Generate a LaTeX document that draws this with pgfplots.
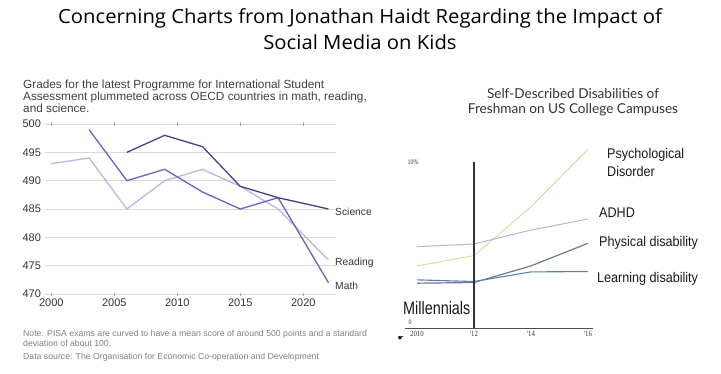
\documentclass[border=0pt]{standalone}
\usepackage{pgfplots}
\pgfplotsset{compat=1.18}
\usepackage{fontspec}
\setmainfont{Lato}
\newfontfamily\opens{Open Sans}
\newfontfamily\lib{Liberation Sans}
\newfontfamily\libser{Liberation Serif}
\newfontfamily\dejavu{DejaVu Sans}
\definecolor{sci}{HTML}{4B3E8E}
\definecolor{mat}{HTML}{6E60C0}
\definecolor{rea}{HTML}{BDB6E2}
\definecolor{psy}{HTML}{D9DCA6}
\definecolor{adhd}{HTML}{A9B9D9}
\definecolor{phy}{HTML}{6D7A8C}
\definecolor{lea}{HTML}{5B7DBB}
\begin{document}
\begin{tikzpicture}[x=1bp,y=1bp]
\path[use as bounding box] (0,0) rectangle (721,373);
% main title
\node[align=center,font=\opens\fontsize{19.5bp}{26bp}\selectfont,text=black,xscale=1.04] at (360,344)
  {Concerning Charts from Jonathan Haidt Regarding the Impact of\\Social Media on Kids};
% left chart title
\node[anchor=north west,align=left,inner sep=0pt,text=black!75,font=\lib\fontsize{11.8bp}{12bp}\selectfont] at (23,293)
  {Grades for the latest Programme for International Student\\Assessment plummeted across OECD countries in math, reading,\\and science.};
\begin{axis}[at={(45bp,79bp)},anchor=south west,scale only axis,
  width=291bp,height=170bp,
  xmin=1999.5,xmax=2022.6,ymin=470,ymax=500,
  xtick={2000,2005,2010,2015,2020},ytick={470,475,...,500},
  axis line style={draw=none},
  ymajorgrids,grid style={black!15,line width=0.8bp},
  xtick style={black!35,line width=0.6bp},ytick style={draw=none},
  major tick length=3bp,tick align=center,
  ticklabel style={font=\lib\fontsize{11bp}{12bp}\selectfont,text=black!80},
  yticklabel style={xshift=1bp},
  /pgf/number format/assume math mode=true,
  /pgf/number format/1000 sep={},
  clip=false]
\addplot[rea,line width=1.3bp] coordinates {(2000,493) (2003,494) (2006,485) (2009,490) (2012,492) (2015,489) (2018,485) (2022,476)};
\addplot[mat,line width=1.3bp] coordinates {(2003,499) (2006,490) (2009,492) (2012,488) (2015,485) (2018,487) (2022,472)};
\addplot[sci,line width=1.3bp] coordinates {(2006,495) (2009,498) (2012,496) (2015,489) (2018,487) (2022,485)};
\end{axis}
\begin{scope}[every node/.style={anchor=west,inner sep=0pt,font=\lib\fontsize{10.3bp}{12bp}\selectfont,text=black!80}]
\node at (335,161) {Science};
\node at (335,110) {Reading};
\node at (335,87) {Math};
\end{scope}
% notes
\node[anchor=north west,align=left,inner sep=0pt,text=black!50,font=\lib\fontsize{8.7bp}{10bp}\selectfont] at (23,43)
  {Note: PISA exams are curved to have a mean score of around 500 points and a standard\\deviation of about 100.};
\node[anchor=north west,inner sep=0pt,text=black!50,font=\lib\fontsize{8.7bp}{10bp}\selectfont] at (23,20)
  {Data source: The Organisation for Economic Co-operation and Development};
% right chart title
\node[align=center,text=black!80,font=\fontsize{13.6bp}{15bp}\selectfont] at (573,271)
  {Self-Described Disabilities of\\Freshman on US College Campuses};
\begin{axis}[at={(405bp,45bp)},anchor=south west,scale only axis,
  width=188bp,height=182.6bp,
  xmin=2009.58,xmax=2016.18,ymin=0,ymax=11,
  axis x line=bottom,axis y line=none,
  axis line style={black!70,line width=0.6bp,-},
  xtick={2010,2012,2014,2016},xticklabels={2010,'12,'14,'16},
  major tick length=0pt,
  xticklabel style={font=\libser\fontsize{8bp}{9bp}\selectfont,text=black!80,xscale=0.85},
  clip=false]
\addplot[psy,line width=1bp] coordinates {(2010,3.74) (2012,4.36) (2014,7.3) (2016,10.76)};
\addplot[adhd,line width=1bp] coordinates {(2010,4.9) (2012,5.06) (2014,5.9) (2016,6.56)};
\addplot[phy,line width=1.2bp] coordinates {(2010,2.7) (2012,2.74) (2014,3.74) (2016,5.1)};
\addplot[lea,line width=1.1bp] coordinates {(2010,2.9) (2012,2.8) (2014,3.38) (2016,3.4)};
\addplot[black!80,line width=1.3bp] coordinates {(2012,0) (2012,10)};
\end{axis}
\node[font=\libser\fontsize{7bp}{8bp}\selectfont,text=black!80,xscale=0.85] at (410,51) {0};
\node[font=\libser\fontsize{7bp}{8bp}\selectfont,text=black!80,xscale=0.85] at (413,211) {10\%};
\node[font=\dejavu\fontsize{7bp}{8bp}\selectfont] at (401,34) {☛};
\begin{scope}[every node/.style={anchor=west,inner sep=0pt,font=\lib\fontsize{14bp}{16bp}\selectfont,text=black!90,xscale=0.9}]
\node at (607,218) {Psychological};
\node at (607,202) {Disorder};
\node at (599,160) {ADHD};
\node at (599,130) {Physical disability};
\node at (597,94) {Learning disability};
\end{scope}
\node[anchor=west,inner sep=0pt,font=\lib\fontsize{18bp}{20bp}\selectfont,text=black!90,xscale=0.8] at (403,65) {Millennials};
\end{tikzpicture}
\end{document}
